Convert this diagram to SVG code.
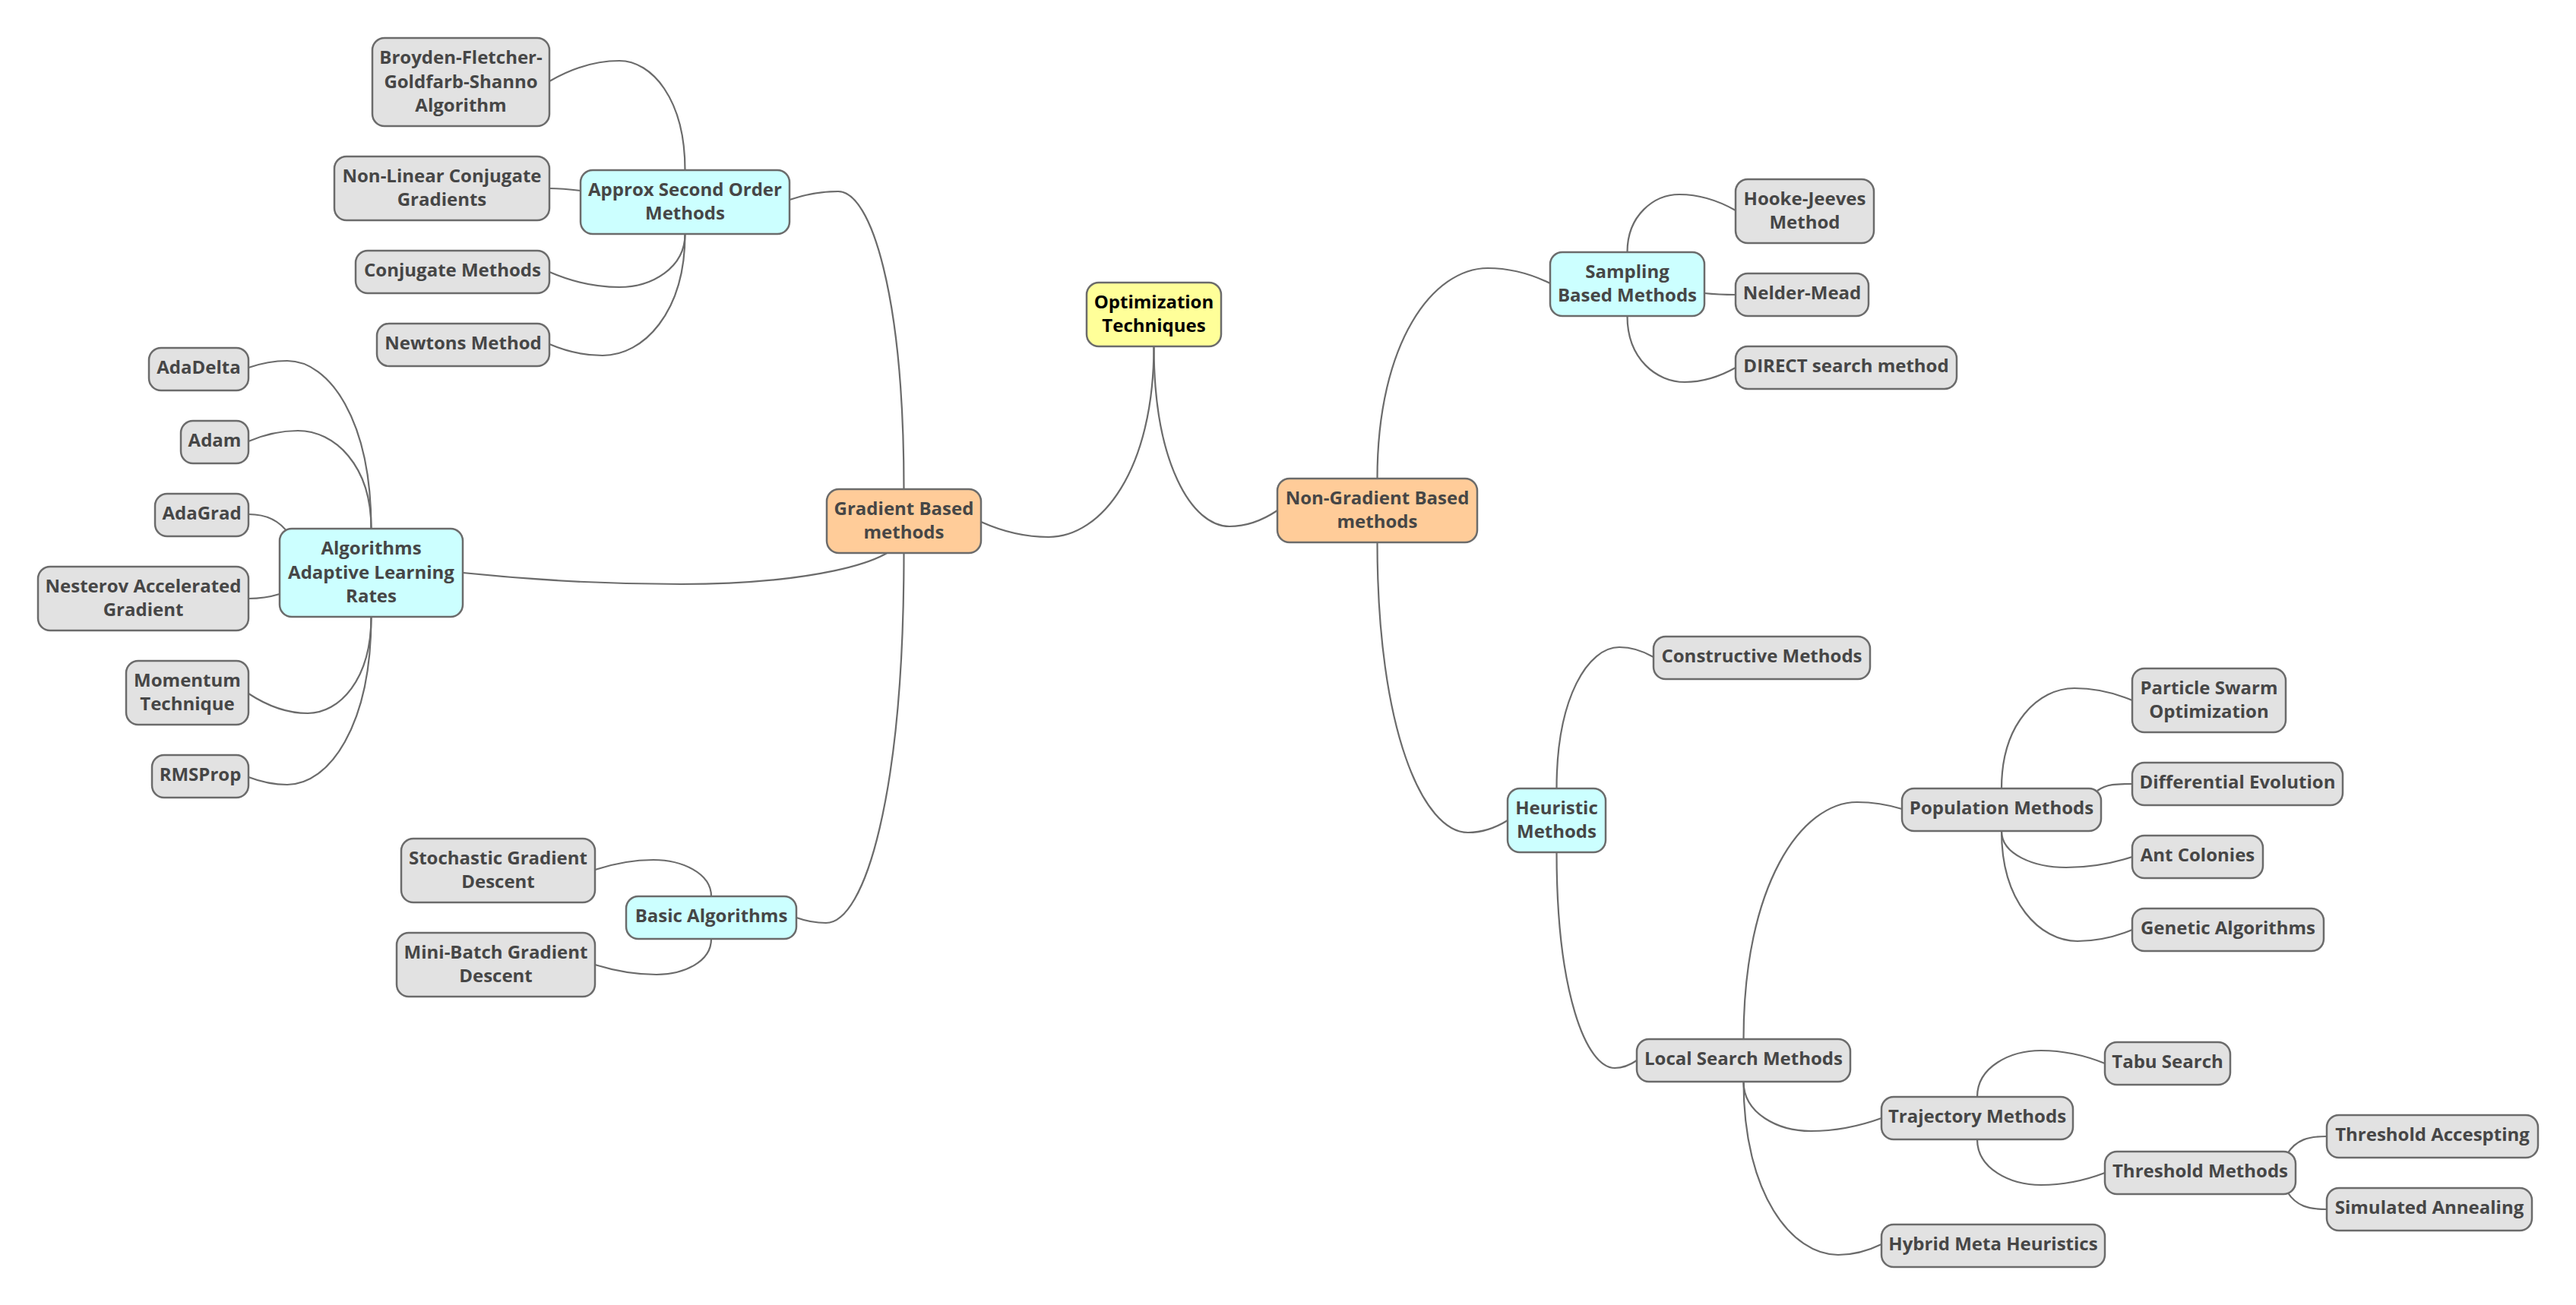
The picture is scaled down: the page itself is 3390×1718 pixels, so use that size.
<svg xmlns="http://www.w3.org/2000/svg" width="3390" height="1718" viewBox="0 0 3390 1718">
<style>
.bg{fill:#ffffff}
.edge{fill:none;stroke:#6b6b6b;stroke-width:2.2}
.box{stroke:#6b6b6b;stroke-width:2.5}
.root .box{fill:#ffff99}
.l1 .box{fill:#ffcc99}
.l2 .box{fill:#ccffff}
.leaf .box{fill:#e2e2e2}
text{font-family:"Open Sans","Noto Sans","Liberation Sans",sans-serif;font-weight:bold;font-size:24px;fill:#464646;text-anchor:middle}
.root text{fill:#000000}
</style>
<rect class="bg" x="0" y="0" width="3390" height="1718"/>
<g id="connectors">
<path class="edge" d="M1518.5 456C1518.5 619 1449.5 707 1380 707Q1335.5 707 1291 687"/>
<path class="edge" d="M1518.5 456C1518.5 610 1568.5 693 1618 693Q1649.5 693 1681 672"/>
<path class="edge" d="M1189.5 644C1189.5 389 1146.5 252 1103 252Q1071 252 1039 263"/>
<path class="edge" d="M901.5 224C901.5 130 857.5 80 815 80Q769.5 80 723 107"/>
<path class="edge" d="M764 251C748 249 740 248 723 248"/>
<path class="edge" d="M901.5 308C901.5 353 857.5 378 815 378Q769 378 723 358"/>
<path class="edge" d="M901.5 308C901.5 412 846.5 468 793 468Q758 468 723 453"/>
<path class="edge" d="M1189.5 700C1189.5 745 1043 769 896 769Q752.5 769 609 754"/>
<path class="edge" d="M488.5 696C488.5 552 433 475 378 475Q353 475 327 484"/>
<path class="edge" d="M488.5 696C488.5 612 440 567 392 567Q360 567 327 581"/>
<path class="edge" d="M380 703C368 685 350 677 327 677"/>
<path class="edge" d="M368 782C355 786 345 788 327 788"/>
<path class="edge" d="M488.5 812C488.5 895 446.5 939 405 939Q366.5 939 327 913"/>
<path class="edge" d="M488.5 812C488.5 956 433 1033 378 1033Q353 1033 327 1023"/>
<path class="edge" d="M1189.5 728C1189.5 1045 1138.5 1215 1087 1215Q1067.5 1215 1048 1208"/>
<path class="edge" d="M936 1180C936 1149 896.5 1132 860 1132Q822.5 1132 783 1145"/>
<path class="edge" d="M936 1236C936 1267 898.5 1283 864 1283Q824.5 1283 783 1270"/>
<path class="edge" d="M1812.5 630C1812.5 450 1886 353 1958 353Q1999 353 2040 373"/>
<path class="edge" d="M1812.5 714C1812.5 962 1873 1096 1932 1096Q1958 1096 1984 1080"/>
<path class="edge" d="M2141.5 332C2141.5 283 2177 256 2210 256Q2247 256 2284 277"/>
<path class="edge" d="M2243 386C2262 388 2270 388 2284 388"/>
<path class="edge" d="M2141.5 416C2141.5 473 2180.5 503 2217 503Q2250.5 503 2284 484"/>
<path class="edge" d="M2048.5 1038C2048.5 917 2090.5 852 2131 852Q2153.5 852 2176 865"/>
<path class="edge" d="M2048.5 1122C2048.5 1307 2087.5 1406 2125 1406Q2139.5 1406 2154 1396"/>
<path class="edge" d="M2294.5 1368C2294.5 1165 2370.5 1056 2444 1056Q2473.5 1056 2503 1065"/>
<path class="edge" d="M2634 1038C2634 952 2682.5 906 2730 906Q2768 906 2806 922"/>
<path class="edge" d="M2760 1041C2772 1032 2785 1032 2806 1032"/>
<path class="edge" d="M2634 1094C2634 1125 2677 1142 2719 1142Q2762.5 1142 2806 1128"/>
<path class="edge" d="M2634 1094C2634 1188 2684.5 1239 2734 1239Q2770 1239 2806 1224"/>
<path class="edge" d="M2294.5 1424C2294.5 1466 2340 1489 2383 1489Q2429.5 1489 2476 1472"/>
<path class="edge" d="M2294.5 1424C2294.5 1572 2358 1652 2419 1652Q2447.5 1652 2476 1638"/>
<path class="edge" d="M2602 1444C2602 1404 2646 1383 2686 1383Q2728 1383 2770 1400"/>
<path class="edge" d="M2602 1500C2602 1539 2646 1560 2686 1560Q2728 1560 2770 1544"/>
<path class="edge" d="M3010 1519C3022 1500 3038 1496 3062 1496"/>
<path class="edge" d="M3010 1569C3022 1588 3038 1592 3062 1592"/>
</g>
<g id="n-root" class="root"><rect class="box" x="1430" y="372" width="177" height="84" rx="16"/><text><tspan x="1518.5" y="405.6">Optimization</tspan><tspan x="1518.5" y="437.3">Techniques</tspan></text></g>
<g id="n-grad" class="l1"><rect class="box" x="1088" y="644" width="203" height="84" rx="16"/><text><tspan x="1189.5" y="677.6">Gradient Based</tspan><tspan x="1189.5" y="709.3">methods</tspan></text></g>
<g id="n-nongrad" class="l1"><rect class="box" x="1681" y="630" width="263" height="84" rx="16"/><text><tspan x="1812.5" y="663.6">Non-Gradient Based</tspan><tspan x="1812.5" y="695.3">methods</tspan></text></g>
<g id="n-approx" class="l2"><rect class="box" x="764" y="224" width="275" height="84" rx="16"/><text><tspan x="901.5" y="257.6">Approx Second Order</tspan><tspan x="901.5" y="289.3">Methods</tspan></text></g>
<g id="n-bfgs" class="leaf"><rect class="box" x="490" y="50" width="233" height="116" rx="16"/><text><tspan x="606.5" y="83.8">Broyden-Fletcher-</tspan><tspan x="606.5" y="115.5">Goldfarb-Shanno</tspan><tspan x="606.5" y="147.2">Algorithm</tspan></text></g>
<g id="n-nonlin" class="leaf"><rect class="box" x="440" y="206" width="283" height="84" rx="16"/><text><tspan x="581.5" y="239.6">Non-Linear Conjugate</tspan><tspan x="581.5" y="271.3">Gradients</tspan></text></g>
<g id="n-conj" class="leaf"><rect class="box" x="468" y="330" width="255" height="56" rx="16"/><text x="595.5" y="364">Conjugate Methods</text></g>
<g id="n-newton" class="leaf"><rect class="box" x="496" y="426" width="227" height="56" rx="16"/><text x="609.5" y="460">Newtons Method</text></g>
<g id="n-algos" class="l2"><rect class="box" x="368" y="696" width="241" height="116" rx="16"/><text><tspan x="488.5" y="729.8">Algorithms</tspan><tspan x="488.5" y="761.5">Adaptive Learning</tspan><tspan x="488.5" y="793.2">Rates</tspan></text></g>
<g id="n-adadelta" class="leaf"><rect class="box" x="196" y="458" width="131" height="56" rx="16"/><text x="261.5" y="492">AdaDelta</text></g>
<g id="n-adam" class="leaf"><rect class="box" x="238" y="554" width="89" height="56" rx="16"/><text x="282.5" y="588">Adam</text></g>
<g id="n-adagrad" class="leaf"><rect class="box" x="204" y="650" width="123" height="56" rx="16"/><text x="265.5" y="684">AdaGrad</text></g>
<g id="n-nesterov" class="leaf"><rect class="box" x="50" y="746" width="277" height="84" rx="16"/><text><tspan x="188.5" y="779.6">Nesterov Accelerated</tspan><tspan x="188.5" y="811.3">Gradient</tspan></text></g>
<g id="n-momentum" class="leaf"><rect class="box" x="166" y="870" width="161" height="84" rx="16"/><text><tspan x="246.5" y="903.6">Momentum</tspan><tspan x="246.5" y="935.3">Technique</tspan></text></g>
<g id="n-rmsprop" class="leaf"><rect class="box" x="200" y="994" width="127" height="56" rx="16"/><text x="263.5" y="1028">RMSProp</text></g>
<g id="n-basic" class="l2"><rect class="box" x="824" y="1180" width="224" height="56" rx="16"/><text x="936" y="1214">Basic Algorithms</text></g>
<g id="n-sgd" class="leaf"><rect class="box" x="528" y="1104" width="255" height="84" rx="16"/><text><tspan x="655.5" y="1137.6">Stochastic Gradient</tspan><tspan x="655.5" y="1169.3">Descent</tspan></text></g>
<g id="n-minibatch" class="leaf"><rect class="box" x="522" y="1228" width="261" height="84" rx="16"/><text><tspan x="652.5" y="1261.6">Mini-Batch Gradient</tspan><tspan x="652.5" y="1293.3">Descent</tspan></text></g>
<g id="n-sampling" class="l2"><rect class="box" x="2040" y="332" width="203" height="84" rx="16"/><text><tspan x="2141.5" y="365.6">Sampling</tspan><tspan x="2141.5" y="397.3">Based Methods</tspan></text></g>
<g id="n-hooke" class="leaf"><rect class="box" x="2284" y="236" width="182" height="84" rx="16"/><text><tspan x="2375" y="269.6">Hooke-Jeeves</tspan><tspan x="2375" y="301.3">Method</tspan></text></g>
<g id="n-nelder" class="leaf"><rect class="box" x="2284" y="360" width="175" height="56" rx="16"/><text x="2371.5" y="394">Nelder-Mead</text></g>
<g id="n-direct" class="leaf"><rect class="box" x="2284" y="456" width="291" height="56" rx="16"/><text x="2429.5" y="490">DIRECT search method</text></g>
<g id="n-heuristic" class="l2"><rect class="box" x="1984" y="1038" width="129" height="84" rx="16"/><text><tspan x="2048.5" y="1071.6">Heuristic</tspan><tspan x="2048.5" y="1103.3">Methods</tspan></text></g>
<g id="n-constructive" class="leaf"><rect class="box" x="2176" y="838" width="285" height="56" rx="16"/><text x="2318.5" y="872">Constructive Methods</text></g>
<g id="n-local" class="leaf"><rect class="box" x="2154" y="1368" width="281" height="56" rx="16"/><text x="2294.5" y="1402">Local Search Methods</text></g>
<g id="n-population" class="leaf"><rect class="box" x="2503" y="1038" width="262" height="56" rx="16"/><text x="2634" y="1072">Population Methods</text></g>
<g id="n-pso" class="leaf"><rect class="box" x="2806" y="880" width="202" height="84" rx="16"/><text><tspan x="2907" y="913.6">Particle Swarm</tspan><tspan x="2907" y="945.3">Optimization</tspan></text></g>
<g id="n-de" class="leaf"><rect class="box" x="2806" y="1004" width="277" height="56" rx="16"/><text x="2944.5" y="1038">Differential Evolution</text></g>
<g id="n-ant" class="leaf"><rect class="box" x="2806" y="1100" width="172" height="56" rx="16"/><text x="2892" y="1134">Ant Colonies</text></g>
<g id="n-genetic" class="leaf"><rect class="box" x="2806" y="1196" width="252" height="56" rx="16"/><text x="2932" y="1230">Genetic Algorithms</text></g>
<g id="n-trajectory" class="leaf"><rect class="box" x="2476" y="1444" width="252" height="56" rx="16"/><text x="2602" y="1478">Trajectory Methods</text></g>
<g id="n-tabu" class="leaf"><rect class="box" x="2770" y="1372" width="165" height="56" rx="16"/><text x="2852.5" y="1406">Tabu Search</text></g>
<g id="n-threshold" class="leaf"><rect class="box" x="2770" y="1516" width="251" height="56" rx="16"/><text x="2895.5" y="1550">Threshold Methods</text></g>
<g id="n-accept" class="leaf"><rect class="box" x="3062" y="1468" width="278" height="56" rx="16"/><text x="3201" y="1502">Threshold Accespting</text></g>
<g id="n-simulated" class="leaf"><rect class="box" x="3062" y="1564" width="270" height="56" rx="16"/><text x="3197" y="1598">Simulated Annealing</text></g>
<g id="n-hybrid" class="leaf"><rect class="box" x="2476" y="1612" width="294" height="56" rx="16"/><text x="2623" y="1646">Hybrid Meta Heuristics</text></g>
</svg>
